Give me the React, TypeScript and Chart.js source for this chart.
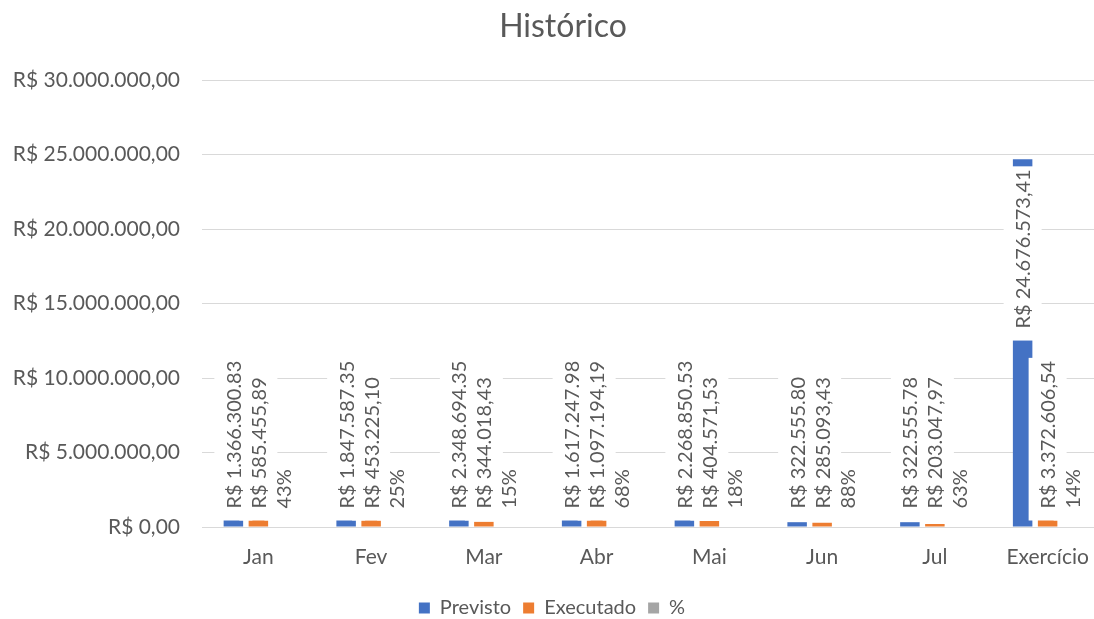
import React, { useEffect, useRef } from "react";
import { Chart, registerables } from "chart.js";

Chart.register(...registerables);

const categories = ["Jan", "Fev", "Mar", "Abr", "Mai", "Jun", "Jul", "Exercício"];
const previsto = [1366300.83, 1847587.35, 2348694.35, 1617247.98, 2268850.53, 322555.8, 322555.78, 24676573.41];
const executado = [585455.89, 453225.1, 344018.43, 1097194.19, 404571.53, 285093.43, 203047.97, 3372606.54];
const percentual = [0.43, 0.25, 0.15, 0.68, 0.18, 0.88, 0.63, 0.14];

const previstoLabels = [
  "R$ 1.366.300.83",
  "R$ 1.847.587.35",
  "R$ 2.348.694.35",
  "R$ 1.617.247.98",
  "R$ 2.268.850.53",
  "R$ 322.555.80",
  "R$ 322.555.78",
  "R$ 24.676.573,41",
];
const executadoLabels = [
  "R$ 585.455,89",
  "R$ 453.225,10",
  "R$ 344.018,43",
  "R$ 1.097.194,19",
  "R$ 404.571,53",
  "R$ 285.093,43",
  "R$ 203.047,97",
  "R$ 3.372.606,54",
];
const percentualLabels = ["43%", "25%", "15%", "68%", "18%", "88%", "63%", "14%"];

const yTickLabels = [
  "R$ 0,00",
  "R$ 5.000.000,00",
  "R$ 10.000.000,00",
  "R$ 15.000.000,00",
  "R$ 20.000.000,00",
  "R$ 25.000.000,00",
  "R$ 30.000.000,00",
];

const seriesNames = ["Previsto", "Executado", "%"];
const seriesColors = ["#4472C4", "#ED7D31", "#A5A5A5"];
// the % series is on the currency axis, so its bars have no visible height
const seriesBarColors = ["#4472C4", "#ED7D31", "rgba(165,165,165,0)"];

const TITLE = "Histórico";
const FONT = "Lato";
const TEXT_COLOR = "#595959";
const LABEL_SIZE = 20;
const TICK_SIZE = 21;
const LEGEND_SIZE = 20;

const allLabels = [previstoLabels, executadoLabels, percentualLabels];

const labelPlugin = {
  id: "barLabels",
  afterDatasetsDraw(chart: any) {
    const ctx = chart.ctx;
    ctx.save();
    ctx.font = `${LABEL_SIZE}px ${FONT}`;
    const items: any[] = [];
    chart.data.datasets.forEach((_ds: any, di: number) => {
      const meta = chart.getDatasetMeta(di);
      const texts = allLabels[di];
      meta.data.forEach((bar: any, i: number) => {
        const { x, y, base } = bar.getProps(["x", "y", "base"], true);
        const w = ctx.measureText(texts[i]).width;
        const textBottom = Math.min(base - 18, y + 10 + w);
        items.push({ x, textBottom, textTop: textBottom - w, text: texts[i] });
      });
    });
    ctx.fillStyle = "#ffffff";
    items.forEach((it) => {
      ctx.fillRect(it.x - 19, it.textTop - 3, 38, it.textBottom - it.textTop + 15);
    });
    ctx.fillStyle = TEXT_COLOR;
    ctx.textAlign = "left";
    ctx.textBaseline = "middle";
    items.forEach((it) => {
      ctx.save();
      ctx.translate(it.x, it.textBottom);
      ctx.rotate(-Math.PI / 2);
      ctx.fillText(it.text, 0, 1);
      ctx.restore();
    });
    ctx.restore();
  },
};

const titlePlugin = {
  id: "customTitle",
  afterDraw(chart: any) {
    const ctx = chart.ctx;
    ctx.save();
    ctx.font = `32px ${FONT}`;
    ctx.fillStyle = TEXT_COLOR;
    ctx.textAlign = "center";
    ctx.textBaseline = "alphabetic";
    ctx.fillText(TITLE, 563, 37);
    ctx.restore();
  },
};

export default function App() {
  const canvasRef = useRef<HTMLCanvasElement | null>(null);

  useEffect(() => {
    if (!canvasRef.current) return;
    const datasets = [previsto, executado, percentual].map((d, i) => ({
      label: seriesNames[i],
      data: d,
      backgroundColor: seriesBarColors[i],
      borderWidth: 0,
      inflateAmount: 0,
      categoryPercentage: 0.665,
      barPercentage: 0.78,
    }));
    const chart = new Chart(canvasRef.current, {
      type: "bar",
      data: { labels: categories, datasets },
      plugins: [labelPlugin, titlePlugin],
      options: {
        responsive: false,
        animation: false,
        layout: { padding: { top: 80, left: 0, right: 6, bottom: 0 } },
        plugins: {
          legend: {
            position: "bottom",
            labels: {
              boxWidth: 11,
              boxHeight: 11,
              padding: 12,
              color: TEXT_COLOR,
              font: { family: FONT, size: LEGEND_SIZE },
              generateLabels: (c: any) =>
                (Chart.defaults.plugins.legend.labels as any).generateLabels(c).map((l: any, i: number) => ({
                  ...l,
                  fillStyle: seriesColors[i],
                  strokeStyle: seriesColors[i],
                  lineWidth: 0,
                })),
            },
          },
          title: { display: false },
          tooltip: { enabled: false },
        },
        scales: {
          x: {
            grid: { display: false, drawTicks: false },
            border: { display: false },
            ticks: { color: TEXT_COLOR, font: { family: FONT, size: TICK_SIZE }, padding: 18, maxRotation: 0 },
            afterFit: (s: any) => {
              s.height = 59;
            },
          },
          y: {
            min: 0,
            max: 30000000,
            ticks: {
              stepSize: 5000000,
              color: TEXT_COLOR,
              font: { family: FONT, size: TICK_SIZE },
              padding: 22,
              callback: (_v: any, idx: number) => yTickLabels[idx],
            },
            grid: { color: "#D9D9D9", drawTicks: false },
            border: { display: false },
            afterFit: (s: any) => {
              s.width = 202;
            },
          },
        },
      } as any,
    });
    return () => chart.destroy();
  }, []);

  return (
    <div
      style={{
        position: "fixed",
        left: 0,
        top: 0,
        width: 1094,
        height: 619,
        overflow: "hidden",
        background: "#ffffff",
      }}
    >
      <canvas ref={canvasRef} width={1110} height={628} style={{ width: 1110, height: 628, display: "block" }} />
    </div>
  );
}
